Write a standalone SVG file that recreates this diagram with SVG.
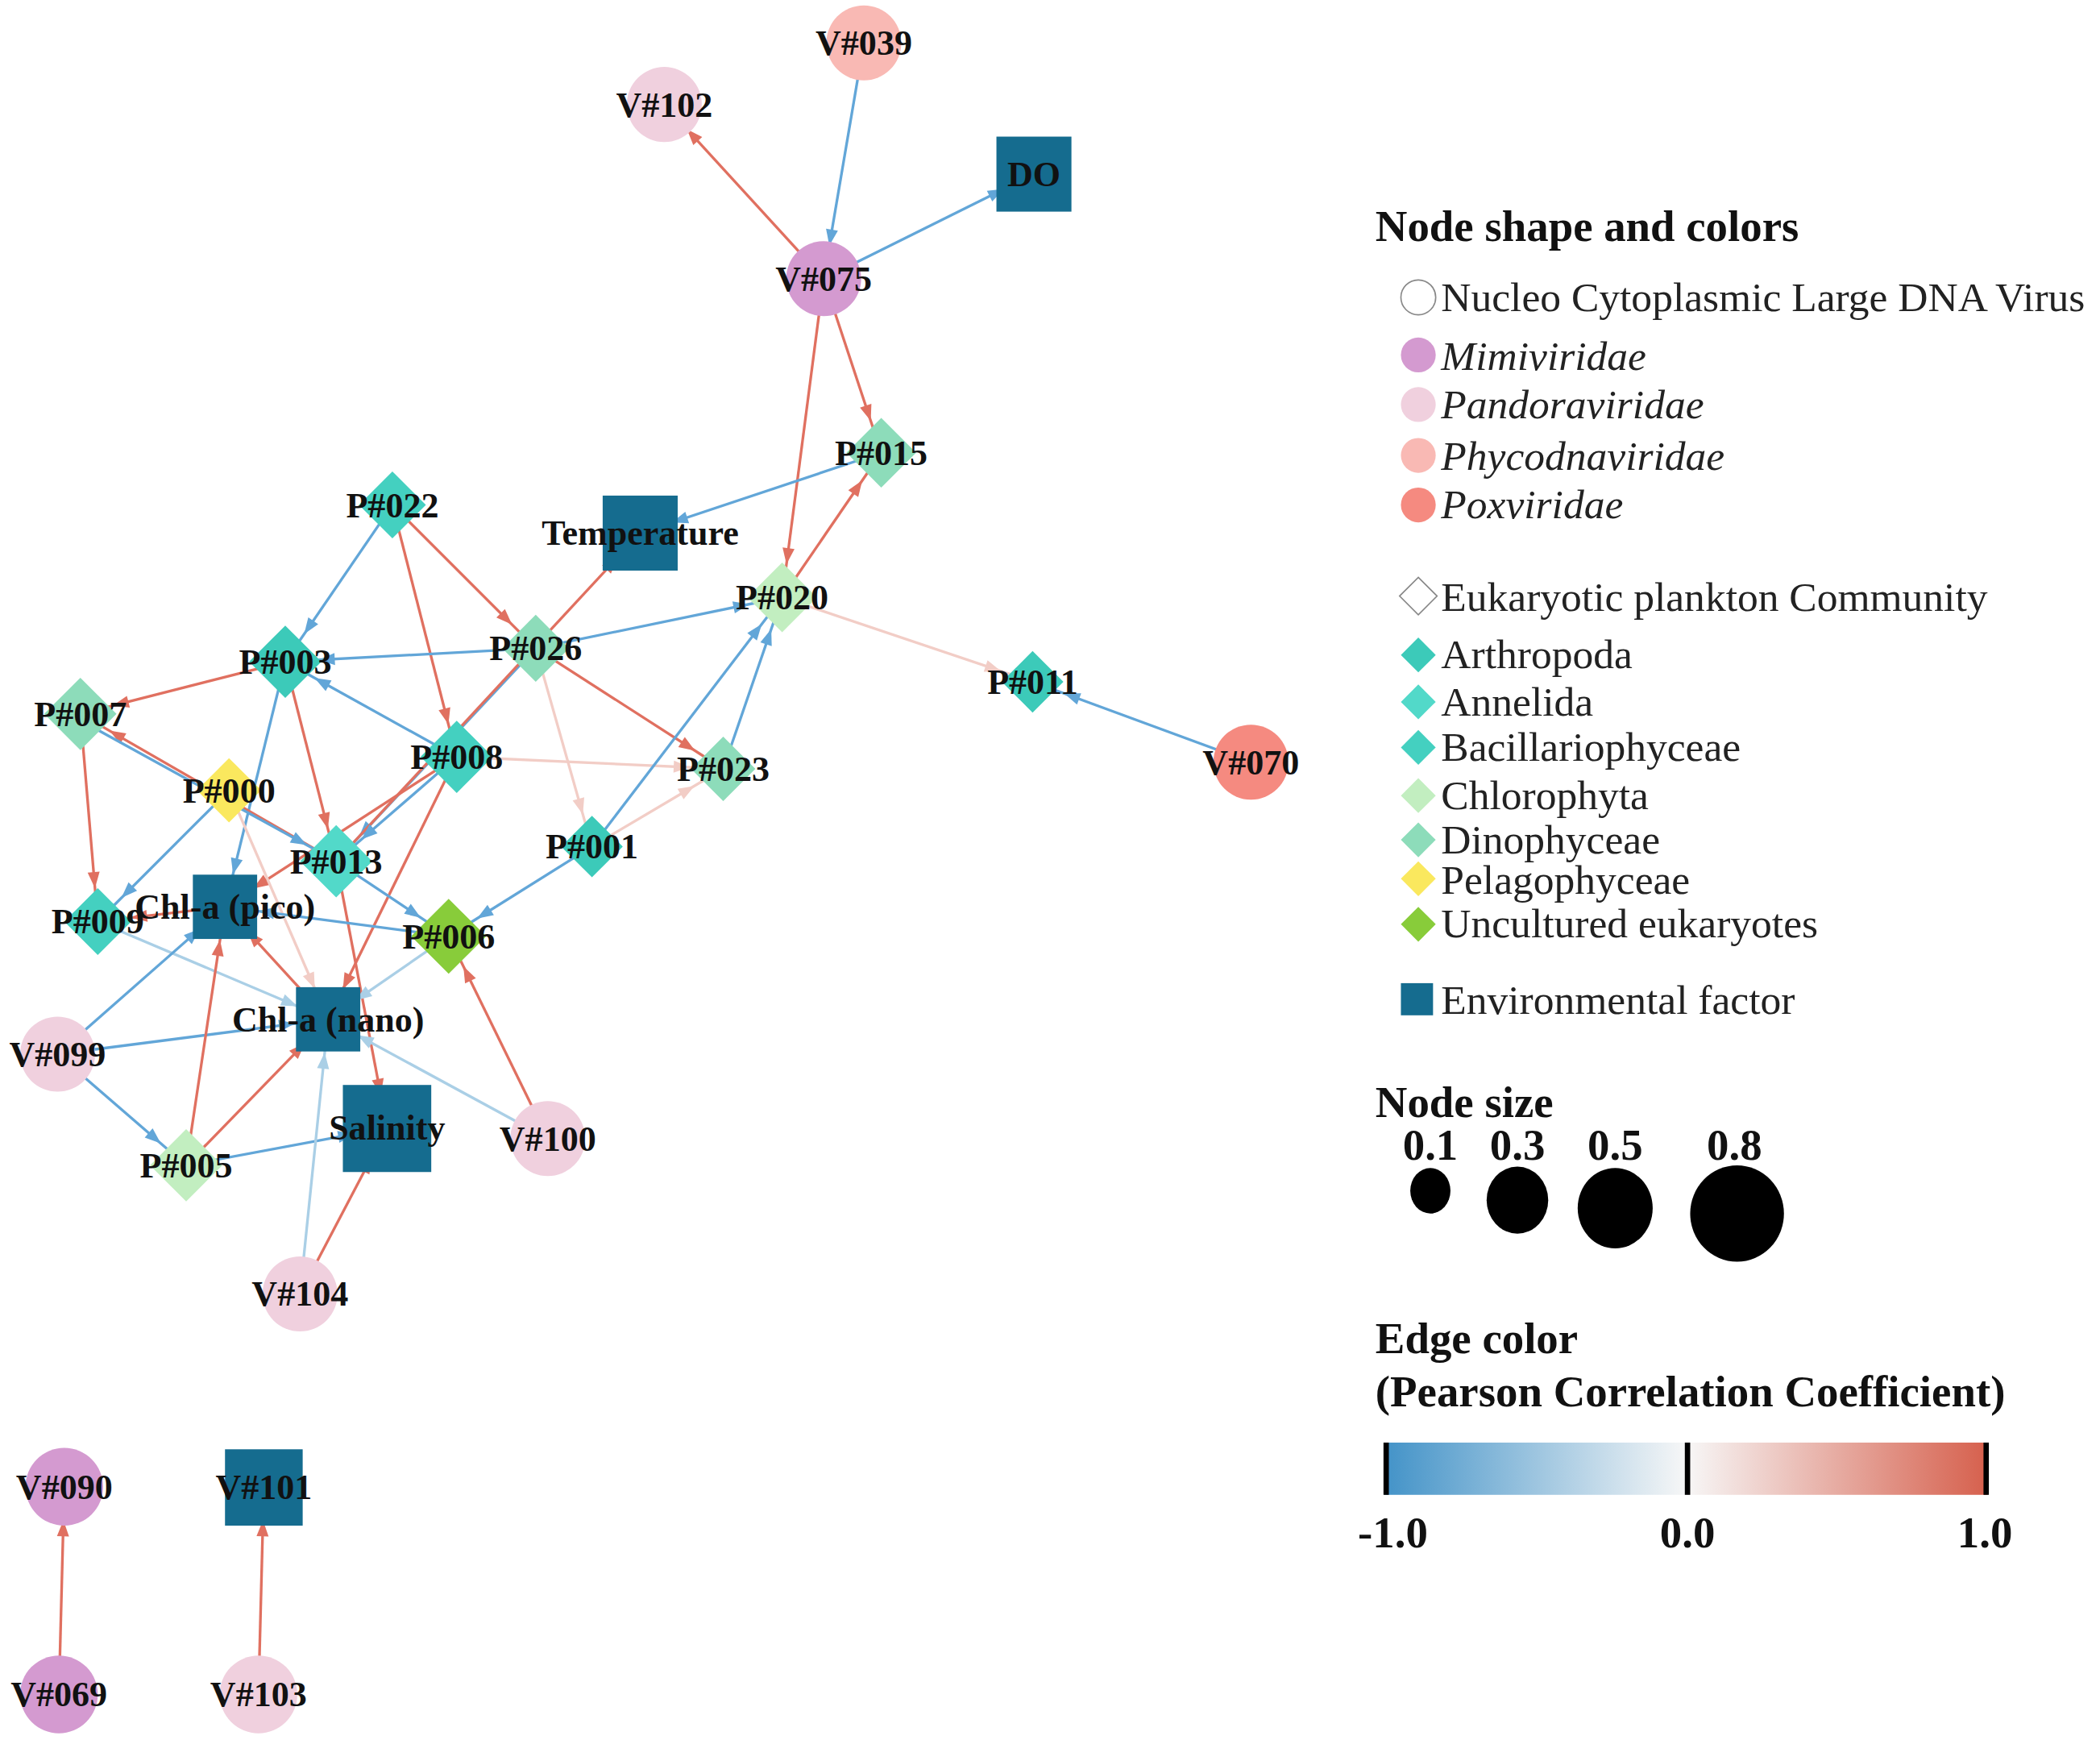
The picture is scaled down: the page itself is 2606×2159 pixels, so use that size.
<svg xmlns="http://www.w3.org/2000/svg" width="2606" height="2159" viewBox="0 0 2606 2159">
<defs>
<style>
.t{font-family:"Liberation Serif",serif;font-weight:bold;font-size:26.5px;text-anchor:middle;fill:#111}
.lg{font-family:"Liberation Serif",serif;font-size:31px;fill:#222}
.lt{font-family:"Liberation Serif",serif;font-weight:bold;font-size:33px;fill:#111}
.r{stroke:#e07060;stroke-width:2;marker-end:url(#mr)}
.b{stroke:#62a6d8;stroke-width:2;marker-end:url(#mb)}
.lr{stroke:#f2cdc6;stroke-width:2;marker-end:url(#mlr)}
.lb{stroke:#aacfe6;stroke-width:2;marker-end:url(#mlb)}
.env{fill:#156c8f}
.mimi{fill:#d49ad0}.pand{fill:#f0d0de}.phyc{fill:#f9b9b4}.pox{fill:#f58a80}
.arth{fill:#3ccab9}.anne{fill:#52d9c9}.baci{fill:#44d0c0}.chlo{fill:#c2eec0}.dino{fill:#8ddcba}.pela{fill:#fae85e}.uncu{fill:#88cc3a}
</style>
<marker id="mr" markerUnits="userSpaceOnUse" viewBox="-40 -6 42 12" markerWidth="42" markerHeight="12" refX="0" refY="0" orient="auto"><path d="M-37,-4.5L-25,0L-37,4.5z" fill="#e07060"/></marker>
<marker id="mb" markerUnits="userSpaceOnUse" viewBox="-40 -6 42 12" markerWidth="42" markerHeight="12" refX="0" refY="0" orient="auto"><path d="M-37,-4.5L-25,0L-37,4.5z" fill="#62a6d8"/></marker>
<marker id="mlr" markerUnits="userSpaceOnUse" viewBox="-40 -6 42 12" markerWidth="42" markerHeight="12" refX="0" refY="0" orient="auto"><path d="M-37,-4.5L-25,0L-37,4.5z" fill="#f2cdc6"/></marker>
<marker id="mlb" markerUnits="userSpaceOnUse" viewBox="-40 -6 42 12" markerWidth="42" markerHeight="12" refX="0" refY="0" orient="auto"><path d="M-37,-4.5L-25,0L-37,4.5z" fill="#aacfe6"/></marker>
<linearGradient id="grad" x1="0" x2="1" y1="0" y2="0"><stop offset="0" stop-color="#4393c8"/><stop offset="0.5" stop-color="#f7f7f7"/><stop offset="1" stop-color="#d6604d"/></linearGradient>
</defs>
<rect width="2606" height="2159" fill="#fff"/>
<g transform="scale(1.662)">
<g id="connectors">
<line class="b" x1="645" y1="32" x2="615" y2="208"/>
<line class="r" x1="615" y1="208" x2="496" y2="78"/>
<line class="b" x1="615" y1="208" x2="772" y2="130"/>
<line class="r" x1="615" y1="208" x2="658" y2="338"/>
<line class="r" x1="615" y1="208" x2="584" y2="446"/>
<line class="b" x1="658" y1="338" x2="478" y2="398"/>
<line class="r" x1="584" y1="446" x2="658" y2="338"/>
<line class="lr" x1="584" y1="446" x2="771" y2="509"/>
<line class="b" x1="934" y1="569" x2="771" y2="509"/>
<line class="b" x1="293" y1="377" x2="213" y2="494"/>
<line class="r" x1="293" y1="377" x2="341" y2="565"/>
<line class="r" x1="293" y1="377" x2="400" y2="484"/>
<line class="b" x1="400" y1="484" x2="213" y2="494"/>
<line class="b" x1="400" y1="484" x2="584" y2="446"/>
<line class="r" x1="400" y1="484" x2="540" y2="574"/>
<line class="lr" x1="400" y1="484" x2="442" y2="632"/>
<line class="b" x1="400" y1="484" x2="251" y2="643"/>
<line class="r" x1="251" y1="643" x2="478" y2="398"/>
<line class="r" x1="213" y1="494" x2="60" y2="533"/>
<line class="r" x1="213" y1="494" x2="251" y2="643"/>
<line class="b" x1="213" y1="494" x2="168" y2="677"/>
<line class="b" x1="341" y1="565" x2="213" y2="494"/>
<line class="b" x1="341" y1="565" x2="251" y2="643"/>
<line class="r" x1="341" y1="565" x2="168" y2="677"/>
<line class="r" x1="341" y1="565" x2="245" y2="761"/>
<line class="lr" x1="341" y1="565" x2="540" y2="574"/>
<line class="r" x1="60" y1="533" x2="73" y2="688"/>
<line class="r" x1="251" y1="643" x2="60" y2="533"/>
<line class="b" x1="64" y1="540" x2="251" y2="643"/>
<line class="b" x1="171" y1="590" x2="73" y2="688"/>
<line class="lr" x1="171" y1="590" x2="245" y2="761"/>
<line class="b" x1="251" y1="643" x2="335" y2="699"/>
<line class="r" x1="251" y1="643" x2="289" y2="842"/>
<line class="lb" x1="73" y1="688" x2="245" y2="761"/>
<line class="r" x1="168" y1="677" x2="73" y2="688"/>
<line class="b" x1="335" y1="699" x2="168" y2="677"/>
<line class="b" x1="442" y1="632" x2="584" y2="446"/>
<line class="b" x1="540" y1="574" x2="584" y2="446"/>
<line class="lr" x1="442" y1="632" x2="540" y2="574"/>
<line class="b" x1="442" y1="632" x2="335" y2="699"/>
<line class="lb" x1="335" y1="699" x2="245" y2="761"/>
<line class="r" x1="245" y1="761" x2="168" y2="677"/>
<line class="b" x1="43" y1="787" x2="168" y2="677"/>
<line class="b" x1="43" y1="787" x2="245" y2="761"/>
<line class="b" x1="43" y1="787" x2="139" y2="870"/>
<line class="r" x1="139" y1="870" x2="168" y2="677"/>
<line class="r" x1="139" y1="870" x2="245" y2="761"/>
<line class="b" x1="139" y1="870" x2="289" y2="842"/>
<line class="r" x1="409" y1="850" x2="335" y2="699"/>
<line class="lb" x1="409" y1="850" x2="245" y2="761"/>
<line class="lb" x1="224" y1="966" x2="245" y2="761"/>
<line class="r" x1="224" y1="966" x2="289" y2="842"/>
<line class="r" x1="44" y1="1265" x2="48" y2="1110"/>
<line class="r" x1="193" y1="1265" x2="197" y2="1110"/>
</g>
<g id="n-V039"><circle cx="645" cy="32" r="28" class="phyc"/><text class="t" x="645" y="41">V#039</text></g>
<g id="n-V102"><circle cx="496" cy="78" r="28" class="pand"/><text class="t" x="496" y="87">V#102</text></g>
<g id="n-DO"><rect x="744" y="102" width="56" height="56" class="env"/><text class="t" x="772" y="139">DO</text></g>
<g id="n-V075"><circle cx="615" cy="208" r="28" class="mimi"/><text class="t" x="615" y="217">V#075</text></g>
<g id="n-P015"><path d="M658,312L684,338L658,364L632,338z" class="dino"/><text class="t" x="658" y="347">P#015</text></g>
<g id="n-Temperature"><rect x="450" y="370" width="56" height="56" class="env"/><text class="t" x="478" y="407">Temperature</text></g>
<g id="n-P020"><path d="M584,420L610,446L584,472L558,446z" class="chlo"/><text class="t" x="584" y="455">P#020</text></g>
<g id="n-P022"><path d="M293,352L318,377L293,402L268,377z" class="baci"/><text class="t" x="293" y="386">P#022</text></g>
<g id="n-P026"><path d="M400,459L425,484L400,509L375,484z" class="dino"/><text class="t" x="400" y="493">P#026</text></g>
<g id="n-P003"><path d="M213,467L240,494L213,521L186,494z" class="arth"/><text class="t" x="213" y="503">P#003</text></g>
<g id="n-P007"><path d="M60,506L87,533L60,560L33,533z" class="dino"/><text class="t" x="60" y="542">P#007</text></g>
<g id="n-P011"><path d="M771,486L794,509L771,532L748,509z" class="arth"/><text class="t" x="771" y="518">P#011</text></g>
<g id="n-V070"><circle cx="934" cy="569" r="28" class="pox"/><text class="t" x="934" y="578">V#070</text></g>
<g id="n-P008"><path d="M341,538L368,565L341,592L314,565z" class="baci"/><text class="t" x="341" y="574">P#008</text></g>
<g id="n-P023"><path d="M540,550L564,574L540,598L516,574z" class="dino"/><text class="t" x="540" y="583">P#023</text></g>
<g id="n-P000"><path d="M171,566L195,590L171,614L147,590z" class="pela"/><text class="t" x="171" y="599">P#000</text></g>
<g id="n-P001"><path d="M442,609L465,632L442,655L419,632z" class="arth"/><text class="t" x="442" y="641">P#001</text></g>
<g id="n-P013"><path d="M251,616L278,643L251,670L224,643z" class="anne"/><text class="t" x="251" y="652">P#013</text></g>
<g id="n-P009"><path d="M73,663L98,688L73,713L48,688z" class="baci"/><text class="t" x="73" y="697">P#009</text></g>
<g id="n-Chla-pico"><rect x="144" y="653" width="48" height="48" class="env"/><text class="t" x="168" y="686">Chl-a (pico)</text></g>
<g id="n-P006"><path d="M335,671L363,699L335,727L307,699z" class="uncu"/><text class="t" x="335" y="708">P#006</text></g>
<g id="n-Chla-nano"><rect x="221" y="737" width="48" height="48" class="env"/><text class="t" x="245" y="770">Chl-a (nano)</text></g>
<g id="n-V099"><circle cx="43" cy="787" r="28" class="pand"/><text class="t" x="43" y="796">V#099</text></g>
<g id="n-Salinity"><rect x="256" y="810" width="66" height="65" class="env"/><text class="t" x="289" y="851">Salinity</text></g>
<g id="n-V100"><circle cx="409" cy="850" r="28" class="pand"/><text class="t" x="409" y="859">V#100</text></g>
<g id="n-P005"><path d="M139,843L166,870L139,897L112,870z" class="chlo"/><text class="t" x="139" y="879">P#005</text></g>
<g id="n-V104"><circle cx="224" cy="966" r="28" class="pand"/><text class="t" x="224" y="975">V#104</text></g>
<g id="n-V090"><circle cx="48" cy="1110" r="29" class="mimi"/><text class="t" x="48" y="1119">V#090</text></g>
<g id="n-V101"><rect x="168" y="1082" width="58" height="57" class="env"/><text class="t" x="197" y="1119">V#101</text></g>
<g id="n-V069"><circle cx="44" cy="1265" r="29" class="mimi"/><text class="t" x="44" y="1274">V#069</text></g>
<g id="n-V103"><circle cx="193" cy="1265" r="29" class="pand"/><text class="t" x="193" y="1274">V#103</text></g>
<g id="legend">
<text class="lt" x="1027" y="180">Node shape and colors</text>
<circle cx="1059" cy="222" r="13" fill="#fff" stroke="#888" stroke-width="1"/><text class="lg" x="1076" y="232">Nucleo Cytoplasmic Large DNA Virus</text>
<circle cx="1059" cy="265" r="13" class="mimi"/><text class="lg" x="1076" y="276" font-style="italic">Mimiviridae</text>
<circle cx="1059" cy="302" r="13" class="pand"/><text class="lg" x="1076" y="312" font-style="italic">Pandoraviridae</text>
<circle cx="1059" cy="340" r="13" class="phyc"/><text class="lg" x="1076" y="351" font-style="italic">Phycodnaviridae</text>
<circle cx="1059" cy="377" r="13" class="pox"/><text class="lg" x="1076" y="387" font-style="italic">Poxviridae</text>
<path d="M1059,431L1073,445L1059,459L1045,445z" fill="#fff" stroke="#888" stroke-width="1"/><text class="lg" x="1076" y="456">Eukaryotic plankton Community</text>
<path d="M1059,476L1072,489L1059,502L1046,489z" class="arth"/><text class="lg" x="1076" y="499">Arthropoda</text>
<path d="M1059,511L1072,524L1059,537L1046,524z" class="anne"/><text class="lg" x="1076" y="534">Annelida</text>
<path d="M1059,545L1072,558L1059,571L1046,558z" class="baci"/><text class="lg" x="1076" y="568">Bacillariophyceae</text>
<path d="M1059,581L1072,594L1059,607L1046,594z" class="chlo"/><text class="lg" x="1076" y="604">Chlorophyta</text>
<path d="M1059,614L1072,627L1059,640L1046,627z" class="dino"/><text class="lg" x="1076" y="637">Dinophyceae</text>
<path d="M1059,643L1072,656L1059,669L1046,656z" class="pela"/><text class="lg" x="1076" y="667">Pelagophyceae</text>
<path d="M1059,677L1072,690L1059,703L1046,690z" class="uncu"/><text class="lg" x="1076" y="700">Uncultured eukaryotes</text>
<rect x="1046" y="734" width="24" height="24" class="env"/><text class="lg" x="1076" y="757">Environmental factor</text>
<text class="lt" x="1027" y="834">Node size</text>
<text class="lt" x="1068" y="866" text-anchor="middle" font-size="29">0.1</text>
<text class="lt" x="1133" y="866" text-anchor="middle" font-size="29">0.3</text>
<text class="lt" x="1206" y="866" text-anchor="middle" font-size="29">0.5</text>
<text class="lt" x="1295" y="866" text-anchor="middle" font-size="29">0.8</text>
<ellipse cx="1068" cy="889" rx="15" ry="17" fill="#000"/>
<ellipse cx="1133" cy="896" rx="23" ry="25" fill="#000"/>
<ellipse cx="1206" cy="902" rx="28" ry="30" fill="#000"/>
<ellipse cx="1297" cy="906" rx="35" ry="36" fill="#000"/>
<text class="lt" x="1027" y="1010">Edge color</text>
<text class="lt" x="1027" y="1050">(Pearson Correlation Coefficient)</text>
<rect x="1034" y="1077" width="450" height="39" fill="url(#grad)"/>
<rect x="1033" y="1077" width="4" height="39" fill="#000"/>
<rect x="1258" y="1077" width="4" height="39" fill="#000"/>
<rect x="1481" y="1077" width="4" height="39" fill="#000"/>
<text class="lt" x="1040" y="1155" text-anchor="middle" font-size="27">-1.0</text>
<text class="lt" x="1260" y="1155" text-anchor="middle" font-size="27">0.0</text>
<text class="lt" x="1482" y="1155" text-anchor="middle" font-size="27">1.0</text>
</g>
</g>
</svg>
